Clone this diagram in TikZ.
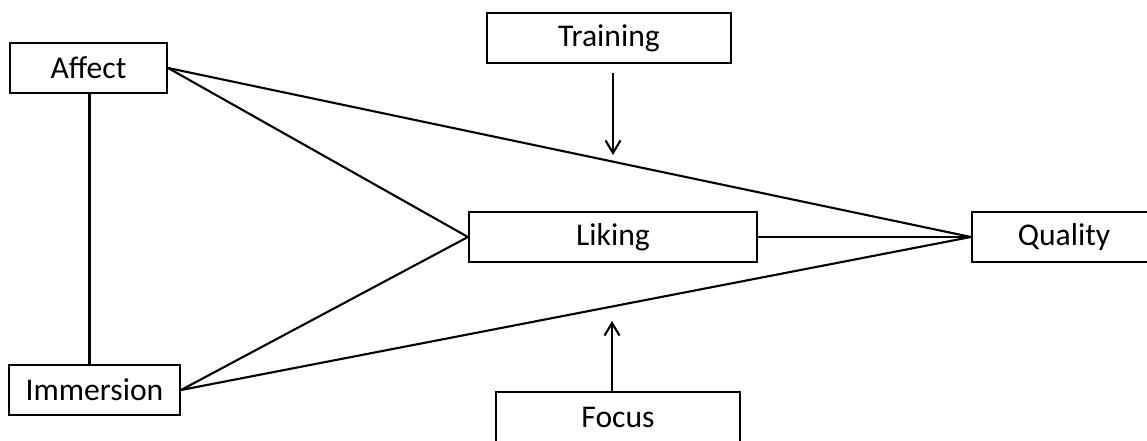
\documentclass[tikz,border=0pt]{standalone}
\usepackage{fontspec}
\setmainfont{Carlito}
\usepackage{tikz}
\usetikzlibrary{arrows.meta,calc}
\tikzset{%
  >={Straight Barb[width=3mm,length=2.5mm]},
  % Specifications for style of nodes:
            box/.style = {rectangle, draw=black, line width=1.2pt,
                          minimum height=10mm, inner sep=0pt,
                          text centered, font=\fontsize{18}{21}\selectfont}
                           }

\begin{document}
\begin{tikzpicture}[line width=1.2pt]
                    \useasboundingbox (0,0) rectangle (22.94,8.8);
                    \node (affect)    [box, minimum width=31.4mm] at (1.77,7.44)  {Affect};
                    \node (training)  [box, minimum width=48.8mm] at (12.18,8.04) {Training};
                    \node (liking)    [box, minimum width=57.6mm] at (12.26,4.06) {Liking};
                    \node (quality)   [box, minimum width=36.8mm] at (21.28,4.06) {Quality};
                    \node (immersion) [box, minimum width=34.2mm] at (1.89,1.0)   {Immersion};
                    \node (focus)     [box, minimum width=48.8mm] at (12.36,0.46) {Focus};

                    \coordinate (trainend) at (12.26,5.70);
                    \coordinate (focusend) at (12.24,2.38);

                    \draw  (affect.south -| 1.79,0)   -- (immersion.north -| 1.79,0);
                    \draw  (affect.east)    -- (quality.west);
                    \draw  (affect.east)    -- (liking.west);
                    \draw  (immersion.east) -- (liking.west);
                    \draw  (immersion.east) -- (quality.west);
                    \draw  (liking.east)    -- (quality.west);

                    \draw[->, shorten <=1.8mm]  (training.south -| trainend) -- (trainend);
                    \draw[->]  (focus.north -| focusend) -- (focusend);
                \end{tikzpicture}
\end{document}
